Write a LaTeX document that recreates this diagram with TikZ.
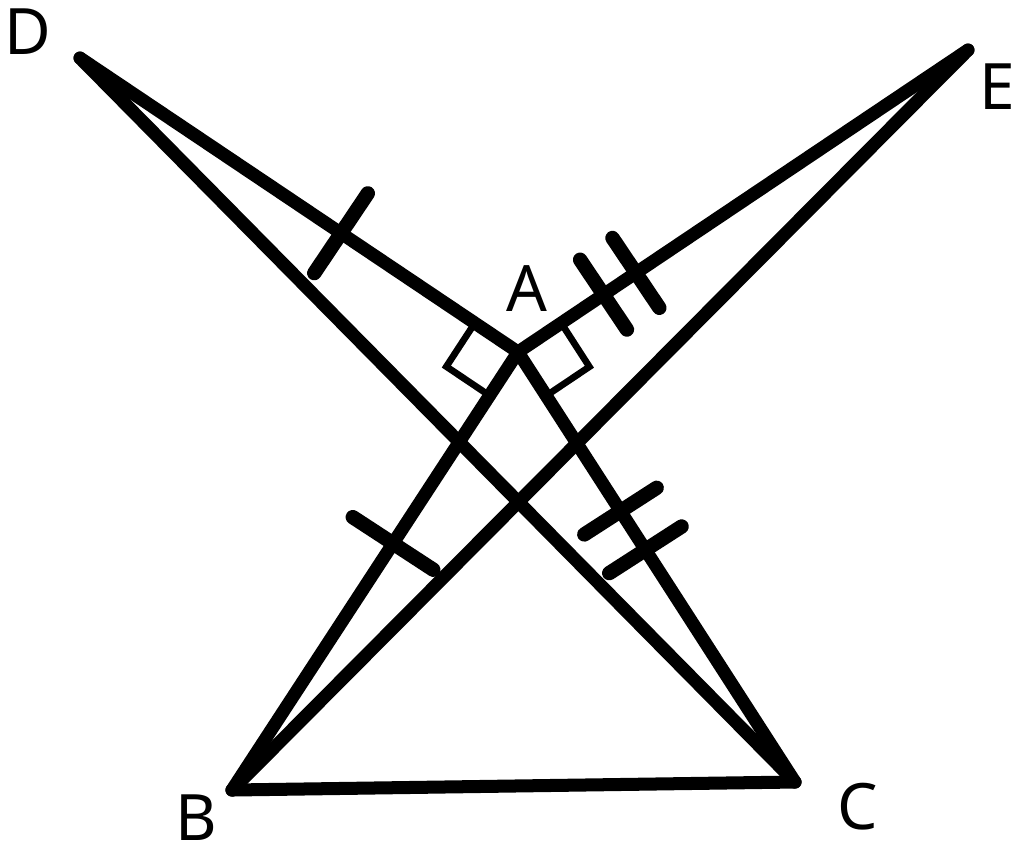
\documentclass[tikz,border=0pt]{standalone}
\usepackage{fontspec}
\setmainfont{Noto Sans}
\usetikzlibrary{calc}
\begin{document}
\begin{tikzpicture}[x=0.01cm,y=-0.01cm,
  side/.style={line width=3.7pt,line cap=round,line join=round},
  tick/.style={line width=4.1pt,line cap=round},
  rmark/.style={line width=1.9pt},
  lab/.style={font=\fontsize{18.2}{20}\selectfont,inner sep=0pt}]
\useasboundingbox (0,0) rectangle (1024,850);

\coordinate (A) at (518,352);
\coordinate (B) at (232,790);
\coordinate (C) at (795,782);
\coordinate (D) at (80,58);
\coordinate (E) at (968,50);

\draw[side] (D) -- (A) -- (E);
\draw[side] (D) -- (C);
\draw[side] (E) -- (B);
\draw[side] (B) -- (A) -- (C);
\draw[side] (B) -- (C);

% right angles at A
\coordinate (ad) at ($(A)!0.52cm!(D)$);
\coordinate (ab) at ($(A)!0.52cm!(B)$);
\draw[rmark] (ad) -- ($(ad)+(ab)-(A)$) -- (ab);
\coordinate (ae) at ($(A)!0.52cm!(E)$);
\coordinate (ac) at ($(A)!0.52cm!(C)$);
\draw[rmark] (ae) -- ($(ae)+(ac)-(A)$) -- (ac);

% equal sides
\coordinate (m1) at ($(D)!0.596!(A)$);
\draw[tick] ($(m1)!0.48cm!90:(A)$) -- ($(m1)!0.48cm!-90:(A)$);
\coordinate (m2) at ($(A)!0.437!(B)$);
\draw[tick] ($(m2)!0.48cm!90:(B)$) -- ($(m2)!0.48cm!-90:(B)$);
\coordinate (m3) at ($(A)!0.19!(E)$);
\coordinate (m4) at ($(A)!0.262!(E)$);
\draw[tick] ($(m3)!0.42cm!90:(E)$) -- ($(m3)!0.42cm!-90:(E)$);
\draw[tick] ($(m4)!0.42cm!90:(E)$) -- ($(m4)!0.42cm!-90:(E)$);
\coordinate (m5) at ($(A)!0.37!(C)$);
\coordinate (m6) at ($(A)!0.46!(C)$);
\draw[tick] ($(m5)!0.43cm!90:(C)$) -- ($(m5)!0.43cm!-90:(C)$);
\draw[tick] ($(m6)!0.43cm!90:(C)$) -- ($(m6)!0.43cm!-90:(C)$);

\node[lab] (labD) at (28,32) {D};
\node[lab] (labE) at (997,87) {E};
\node[lab] (labA) at (527,289) {A};
\node[lab] (labB) at (196,818) {B};
\node[lab] (labC) at (858,807) {C};
\end{tikzpicture}
\end{document}
